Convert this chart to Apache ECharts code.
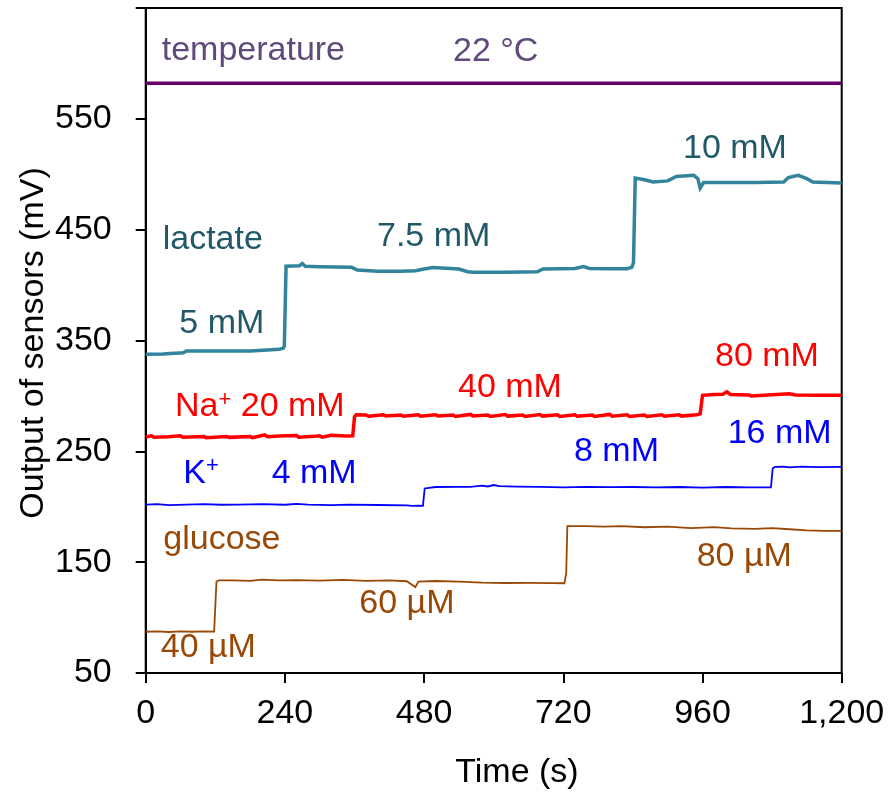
<!DOCTYPE html>
<html>
<head>
<meta charset="utf-8">
<script src="https://cdn.jsdelivr.net/npm/echarts@6/dist/echarts.min.js"></script>
<style>
  html, body { margin: 0; padding: 0; background: #fff; }
  #chart { width: 888px; height: 793px; }
</style>
</head>
<body>
<div id="chart"></div>
<script>
// Sensor outputs (mV) versus time (s)
const xTicks = [0, 240, 480, 720, 960, 1200];
const yTicks = [50, 150, 250, 350, 450, 550];

const lactateT = [0, 30, 33, 36, 65, 70, 120, 180, 210, 230, 237, 239, 242, 265, 270, 275, 300, 355, 365, 400, 440, 465, 480, 495, 540, 555, 565, 620, 675, 685, 740, 755, 765, 800, 830, 838, 841, 844, 860, 875, 900, 915, 945, 952, 956, 962, 1000, 1050, 1100, 1108, 1125, 1140, 1150, 1200];
const lactateV = [337.6, 337.8, 339.5, 338, 339, 340.6, 340.6, 340.6, 341.5, 342, 343, 345, 417, 417.5, 419.5, 417, 416.5, 416, 413.5, 412.5, 412.5, 413, 414.5, 415.8, 414.5, 412, 411.5, 411.5, 412, 414.5, 415, 416.7, 415, 414.8, 414.8, 416, 420, 496.5, 495, 493, 494, 498, 499, 496, 487.5, 492.5, 492.5, 492.5, 493, 497, 499, 496, 493, 492];

const sodiumT = [0, 10, 14, 40, 60, 64, 100, 104, 140, 144, 180, 184, 205, 210, 230, 260, 264, 290, 300, 304, 320, 345, 357, 360, 363, 380, 384, 410, 414, 440, 444, 470, 474, 500, 504, 530, 534, 560, 564, 590, 594, 620, 624, 650, 654, 680, 684, 710, 714, 740, 744, 770, 774, 800, 804, 830, 834, 860, 864, 890, 894, 920, 924, 950, 956, 960, 980, 995, 1002, 1008, 1040, 1044, 1080, 1110, 1120, 1160, 1200];
const sodiumV = [263, 264, 262.8, 263.2, 264, 262.8, 263.3, 262.3, 263.3, 262.6, 263.3, 262.4, 264.8, 263.2, 263.8, 264.3, 262.8, 263.5, 264, 262.7, 264.5, 263.8, 264, 281, 283, 282.8, 281.6, 283, 281.8, 282.8, 281.6, 283, 281.7, 283, 281.8, 282.7, 281.5, 283.3, 281.9, 282.8, 281.5, 283.2, 281.8, 282.8, 281.4, 283.2, 281.8, 282.9, 281.5, 283, 281.7, 282.8, 281.4, 283.3, 281.7, 282.9, 281.5, 282.8, 281.4, 283, 281.6, 282.9, 281.8, 283, 283.8, 300.5, 301.2, 301.5, 303.7, 301.3, 300.8, 300, 301, 302, 300.8, 300.7, 300.7];

const potassiumT = [0, 20, 40, 70, 100, 130, 160, 200, 240, 260, 280, 320, 350, 400, 450, 460, 470, 478, 481, 484, 500, 540, 560, 580, 590, 600, 610, 640, 680, 720, 760, 800, 840, 880, 920, 960, 1000, 1040, 1078, 1081, 1085, 1100, 1110, 1130, 1160, 1200];
const potassiumV = [202, 202.3, 201.5, 202, 202.3, 201.8, 202, 202.3, 201.8, 202.6, 202, 201.5, 202, 201.6, 201.3, 200.8, 201, 200.8, 216.5, 217.5, 217.8, 218, 218, 219, 218.3, 219.6, 218.6, 218.2, 218, 217.5, 218, 217.7, 217.8, 217.4, 217.8, 217.3, 217.8, 217.5, 217.5, 234.5, 236, 236.2, 235.6, 236.2, 235.8, 236];

const glucoseT = [0, 20, 40, 60, 80, 100, 118, 120, 122, 126, 150, 180, 200, 230, 260, 300, 340, 380, 420, 450, 465, 470, 500, 540, 580, 620, 660, 700, 722, 725, 727, 760, 790, 820, 860, 900, 940, 980, 1010, 1050, 1080, 1110, 1140, 1170, 1200];
const glucoseV = [87.2, 87.5, 87, 87.5, 87.2, 87.5, 87.3, 87, 132.5, 133.5, 133.5, 133.2, 134.2, 133.5, 133.8, 133.3, 134, 133.2, 133.5, 132.8, 127.5, 132.5, 133, 132.5, 131.5, 131.2, 131.3, 131, 131, 140, 182.5, 182.6, 182, 182.5, 181.5, 182, 180.7, 181.6, 180.4, 180, 180.8, 179.7, 178.6, 178.2, 178.2];

const temperatureT = [0, 1200];
const temperatureV = [582, 582];

// Annotation texts and their anchor points (time, mV) – left edge, vertical centre
const labelTexts = ['temperature', '22 °C', '10 mM', 'lactate', '7.5 mM', '5 mM',
  '{t|Na}{s|+}{t| 20 mM}', '40 mM', '80 mM', '{t|K}{s|+}', '4 mM', '8 mM', '16 mM',
  'glucose', '60 µM', '40 µM', '80 µM'];
const labelT = [27.6, 529.8, 926.4, 29.3, 398.8, 57.9, 50.5, 538.4, 981.6, 64.8, 217.2, 738.4, 1003.4, 30.3, 368.3, 25.9, 950];
const labelV = [611.8, 610.6, 523.4, 440.7, 443.8, 365.6, 290.5, 307.9, 335.6, 230.3, 230.3, 249.9, 266.4, 170.2, 112.2, 72.5, 155.2];
const labelColors = ['#604a7b', '#604a7b', '#215968', '#215968', '#215968', '#215968',
  '#ff0000', '#ff0000', '#ff0000', '#0000ff', '#0000ff', '#0000ff', '#0000ff',
  '#984807', '#984807', '#984807', '#984807'];

const FONT = "'Liberation Sans', Arial, sans-serif";
const pairs = (t, v) => t.map((x, i) => [x, v[i]]);

const chart = echarts.init(document.getElementById('chart'), null, { renderer: 'canvas' });

function lineSeries(name, t, v, color, width) {
  return {
    name, type: 'line', data: pairs(t, v), showSymbol: false, symbol: 'none',
    lineStyle: { color, width, join: 'miter' }, clip: false, animation: false
  };
}

chart.setOption({
  animation: false,
  grid: {
    left: 145.7, right: 46.3, top: 8, bottom: 120, show: true,
    borderColor: '#000', borderWidth: 2, backgroundColor: 'transparent'
  },
  xAxis: {
    type: 'value', min: 0, max: 1200, interval: 240,
    axisLine: { show: true, lineStyle: { color: '#000', width: 2 } },
    axisTick: { show: true, length: 10, lineStyle: { color: '#000', width: 2 } },
    splitLine: { show: false },
    axisLabel: {
      margin: 24, color: '#000', fontSize: 34, fontFamily: FONT,
      formatter: v => xTicks.includes(v) ? v.toLocaleString('en-US') : ''
    }
  },
  yAxis: {
    type: 'value', min: 50, max: 650, interval: 100,
    axisLine: { show: true, lineStyle: { color: '#000', width: 2 } },
    axisTick: { show: true, length: 10, lineStyle: { color: '#000', width: 2 } },
    splitLine: { show: false },
    axisLabel: {
      margin: 34, color: '#000', fontSize: 34, fontFamily: FONT,
      formatter: v => yTicks.includes(v) ? String(v) : ''
    }
  },
  series: [
    lineSeries('temperature', temperatureT, temperatureV, '#6a0068', 3.5),
    lineSeries('lactate', lactateT, lactateV, '#31849b', 3.5),
    lineSeries('Na+', sodiumT, sodiumV, '#ff0000', 3.5),
    lineSeries('K+', potassiumT, potassiumV, '#0000ff', 1.8),
    lineSeries('glucose', glucoseT, glucoseV, '#984807', 1.8)
  ]
});

// Place annotations through the axis scales
const graphics = labelTexts.map((txt, i) => {
  const p = chart.convertToPixel({ gridIndex: 0 }, [labelT[i], labelV[i]]);
  const rich = txt.startsWith('{');
  return {
    type: 'text', x: p[0], y: p[1], silent: true,
    style: rich ? {
      text: txt, align: 'left', verticalAlign: 'middle', fill: labelColors[i],
      rich: {
        t: { fontSize: 34, fontFamily: FONT, fill: labelColors[i], lineHeight: 40 },
        s: { fontSize: 22, fontFamily: FONT, fill: labelColors[i], lineHeight: 40, padding: [0, 0, 14, 0] }
      }
    } : {
      text: txt, align: 'left', verticalAlign: 'middle',
      fill: labelColors[i], font: '34px ' + FONT
    }
  };
});

graphics.push({
  type: 'text', x: 517, y: 773, silent: true,
  style: { text: 'Time (s)', align: 'center', verticalAlign: 'middle', fill: '#000', font: '34px ' + FONT }
});
graphics.push({
  type: 'text', x: 34, y: 343, rotation: Math.PI / 2, silent: true,
  style: { text: 'Output of sensors (mV)', align: 'center', verticalAlign: 'middle', fill: '#000', font: '34px ' + FONT }
});

chart.setOption({ graphic: graphics });
</script>
</body>
</html>
